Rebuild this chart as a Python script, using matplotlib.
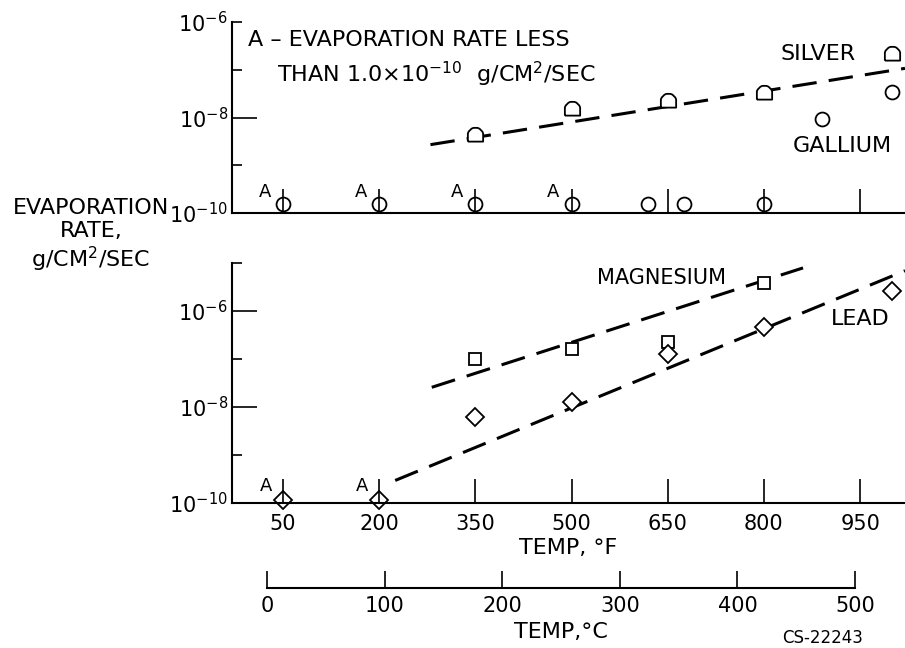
import numpy as np
import matplotlib
matplotlib.use("Agg")
import matplotlib.pyplot as plt
from matplotlib.path import Path

###############################################################################
# data (temperature in deg F, rate in g/cm2/sec)
ticks_f = [50, 200, 350, 500, 650, 800, 950]
ticks_c = [0, 100, 200, 300, 400, 500]

silver_t = [350, 500, 650, 800, 1000]
silver_r = [4.2e-9, 1.5e-8, 2.2e-8, 3.3e-8, 2.1e-7]
silver_fit_t = [280, 1020]
silver_fit_r = [2.7e-9, 1.07e-7]

gallium_t = [50, 200, 350, 500, 620, 675, 800, 890, 1000]
gallium_r = [1.54e-10, 1.54e-10, 1.54e-10, 1.54e-10, 1.54e-10, 1.54e-10,
             1.54e-10, 9.1e-9, 3.5e-8]
gallium_a = [50, 200, 350, 500]          # "A" = below 1e-10

magnesium_t = [350, 500, 650, 800]
magnesium_r = [1.0e-7, 1.6e-7, 2.3e-7, 3.9e-6]
magnesium_fit_t = [282, 861]
magnesium_fit_r = [2.57e-8, 7.9e-6]

lead_t = [50, 200, 350, 500, 650, 800, 1000]
lead_r = [1.15e-10, 1.15e-10, 6.2e-9, 1.27e-8, 1.25e-7, 4.6e-7, 2.6e-6]
lead_fit_t = [225, 1020]
lead_fit_r = [2.95e-10, 6.9e-6]
lead_a = [50, 200]
###############################################################################

W, H = 905, 648
xlim = (-29.5, 1020)

# dome marker (half circle on a short box) for silver
arc = Path.arc(0, 180)
dome_verts = np.vstack([[[-0.5, -0.4], [0.5, -0.4], [0.5, 0.0]],
                        arc.vertices * 0.5, [[-0.5, -0.4]]])
dome = Path(dome_verts)

fig = plt.figure(figsize=(W / 100, H / 100), dpi=100)
ax_top = fig.add_axes([232 / W, 1 - 213 / H, 673 / W, 191 / H])
ax_bot = fig.add_axes([232 / W, 1 - 503 / H, 673 / W, 240 / H])
ax_c = fig.add_axes([267 / W, 1 - 588 / H, 588 / W, 0.01])

mk = dict(linestyle="none", mfc="white", mec="black", mew=1.3, clip_on=False)
dash = dict(color="black", lw=2.2, dashes=(8, 4), zorder=1.9)

def style(ax, ymax):
    ax.set_yscale("log")
    ax.set_xlim(*xlim)
    ax.set_ylim(1e-10, ymax)
    ax.set_axisbelow(False)   # ticks run through the markers
    for s in ["top", "right"]:
        ax.spines[s].set_visible(False)
    for s in ["left", "bottom"]:
        ax.spines[s].set_linewidth(1.5)
    ax.set_xticks(ticks_f)
    ax.tick_params(axis="x", which="major", direction="in", length=17,
                   width=1.2, pad=8, labelsize=15)
    ax.tick_params(axis="y", which="major", direction="in", length=18,
                   width=1.2, pad=3, labelsize=15)
    ax.tick_params(axis="y", which="minor", direction="in", length=7.5,
                   width=1.2, pad=3, labelsize=15)

# top panel: silver / gallium
style(ax_top, 1e-6)
ax_top.set_yticks([1e-10, 1e-8], labels=[r"$10^{-10}$", r"$10^{-8}$"])
ax_top.set_yticks([1e-9, 1e-7, 1e-6], labels=["", "", r"$10^{-6}$"], minor=True)
ax_top.tick_params(axis="x", labelbottom=False)

ax_top.plot(silver_fit_t, silver_fit_r, **dash)
ax_top.plot(silver_t, silver_r, marker=dome, ms=11, **mk)
ax_top.plot(gallium_t, gallium_r, marker="o", ms=10, **mk)
for t in gallium_a:
    ax_top.annotate("A", xy=(t, gallium_r[0]), xytext=(-18, 12),
                    textcoords="offset pixels", ha="center", va="center",
                    fontsize=13)

ax_top.text(884, 2.1e-7, "SILVER", ha="center", va="center", fontsize=16)
ax_top.text(922, 2.5e-9, "GALLIUM", ha="center", va="center", fontsize=16)
ax_top.text(0.024, 0.874, "A \u2013 EVAPORATION RATE LESS",
            transform=ax_top.transAxes, ha="left", va="baseline", fontsize=16)
ax_top.text(0.067, 0.686, r"THAN 1.0$\times$10$^{-10}$  g/CM$^{2}$/SEC",
            transform=ax_top.transAxes, ha="left", va="baseline", fontsize=16)

# bottom panel: magnesium / lead
style(ax_bot, 1e-5)
ax_bot.set_yticks([1e-10, 1e-8, 1e-6],
                  labels=[r"$10^{-10}$", r"$10^{-8}$", r"$10^{-6}$"])
ax_bot.set_yticks([1e-9, 1e-7, 1e-5], labels=["", "", ""], minor=True)
ax_bot.set_xticklabels([str(t) for t in ticks_f])
ax_bot.set_xlabel("TEMP, \u00b0F", fontsize=16, labelpad=3)

ax_bot.plot(magnesium_fit_t, magnesium_fit_r, **dash)
ax_bot.plot(lead_fit_t, lead_fit_r, **dash)
ax_bot.plot(magnesium_t, magnesium_r, marker="s", ms=9, **mk)
ax_bot.plot(lead_t, lead_r, marker="D", ms=8.7, **mk)
for t in lead_a:
    ax_bot.annotate("A", xy=(t, lead_r[0]), xytext=(-17, 14),
                    textcoords="offset pixels", ha="center", va="center",
                    fontsize=13)

ax_bot.text(641, 4.9e-6, "MAGNESIUM", ha="center", va="center", fontsize=15)
ax_bot.text(950, 6.9e-7, "LEAD", ha="center", va="center", fontsize=16)

# celsius scale
ax_c.set_xlim(0, 500)
for s in ["top", "right", "left"]:
    ax_c.spines[s].set_visible(False)
ax_c.spines["bottom"].set_linewidth(1.5)
ax_c.set_yticks([])
ax_c.patch.set_alpha(0)
ax_c.set_xticks(ticks_c)
ax_c.tick_params(axis="x", direction="in", length=12, width=1.2, pad=6,
                 labelsize=15)
ax_c.set_xlabel("TEMP,\u00b0C", fontsize=16, labelpad=4)

fig.text(91 / W, 1 - 236 / H, "EVAPORATION\nRATE,\ng/CM$^2$/SEC",
         ha="center", va="center", multialignment="center", fontsize=16)
fig.text(823 / W, 1 - 638 / H, "CS-22243", ha="center", va="center",
         fontsize=12)

plt.savefig("out.png", dpi=100)
